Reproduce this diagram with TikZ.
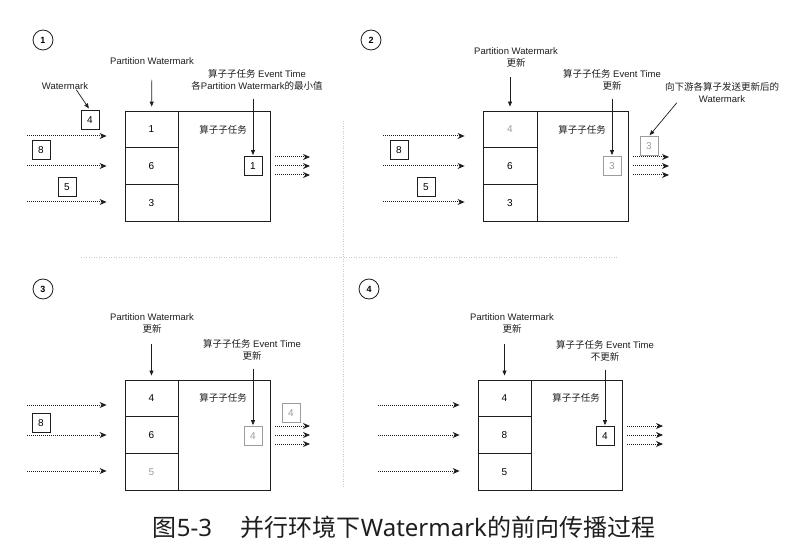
\documentclass[tikz,border=0pt]{standalone}
\usepackage{fontspec}
\setmainfont{Liberation Sans}
\newfontfamily\cjk{Noto Sans CJK SC}
\newfontfamily\capfont{Noto Sans}
\usetikzlibrary{arrows.meta,calc}
\definecolor{ink}  {HTML}{1E1E1E}
\definecolor{faded}{HTML}{9C9C9C}
\definecolor{rule} {HTML}{C8C8C8}
\tikzset{
  lbl/.style     ={font=\fontsize{9.5}{12}\selectfont, align=center,
                   inner sep=0pt, text=ink},
  cell/.style    ={draw=ink, line width=0.8pt, minimum width=53pt,
                   minimum height=36.7pt, inner sep=0pt,
                   font=\fontsize{10}{12}\selectfont},
  cellfade/.style={cell, text=faded},
  opbox/.style   ={draw=ink, line width=0.8pt, minimum width=92pt,
                   minimum height=110pt, inner sep=0pt},
  wm/.style      ={draw=ink, line width=0.8pt, minimum width=18pt,
                   minimum height=19pt, inner sep=0pt,
                   font=\fontsize{10}{12}\selectfont},
  wmfade/.style  ={wm, draw=faded, text=faded},
  stepno/.style  ={circle, draw=ink, line width=0.8pt, minimum size=20pt,
                   inner sep=0pt, font=\fontsize{9}{10}\selectfont\bfseries},
  ptr/.style     ={-{Triangle[length=5pt,width=4pt]}, line width=0.7pt, draw=ink},
  flow/.style    ={-{Stealth[length=7pt,width=6pt]}, line width=1pt,
                   dash pattern=on 1pt off 1pt, draw=ink},
  inflow/.style  ={flow, shorten >=18pt},
  outflow/.style ={flow, shorten <=5pt},
  divider/.style ={draw=rule, line width=0.8pt, dash pattern=on 1pt off 1.5pt},
}

\begin{document}
\begin{tikzpicture}[x=1pt,y=-1pt]
  \useasboundingbox (0,0) rectangle (811,548);

  % quadrant rules
  \draw[divider] (81,257) -- (618,257);
  \draw[divider] (343,121) -- (343,488);

  % (1) first watermarks arrive
  \node[stepno] (s1) at (43,40) {1};
  \node[lbl] (pw1) at (152,61) {Partition Watermark};
  \node[lbl] (wmk1) at (65,86) {Watermark};
  \node[lbl] (et1) at (257,80)
    {{\cjk 算子子任务} Event Time\\{\cjk 各}Partition Watermark{\cjk 的最小值}};
  \node[opbox] (op1) at (224,166) {};
  \node[cell] (c1a) at (151.5,129.3) {1};
  \node[cell] (c1b) at (151.5,166) {6};
  \node[cell] (c1c) at (151.5,202.7) {3};
  \node[lbl] (t1) at (223,130) {\cjk 算子子任务};
  \node[wm] (r1) at (253,166) {1};
  \node[wm] (w1a) at (90,120) {4};
  \node[wm] (w1b) at (41,150) {8};
  \node[wm] (w1c) at (67,187) {5};
  \coordinate (i1a) at (27,136);
  \coordinate (i1b) at (27,166);
  \coordinate (i1c) at (27,202);
  \coordinate (o1a) at (310,157);
  \coordinate (o1b) at (310,166);
  \coordinate (o1c) at (310,175);

  \draw[ptr, shorten <=15pt, shorten >=4pt] (pw1) -- (c1a);
  \draw[ptr, shorten <=8pt, shorten >=1pt] (et1.south -| r1) -- (r1);
  \draw[ptr, shorten >=2pt] ([xshift=-12pt]wmk1.south east) -- (w1a.north);
  \draw[inflow] (i1a) -- (i1a -| c1a.west);
  \draw[inflow] (i1b) -- (i1b -| c1b.west);
  \draw[inflow] (i1c) -- (i1c -| c1c.west);
  \draw[outflow] (o1a -| op1.east) -- (o1a);
  \draw[outflow] (o1b -| op1.east) -- (o1b);
  \draw[outflow] (o1c -| op1.east) -- (o1c);

  % (2) partition watermark and event time updated
  \node[stepno] (s2) at (371,40) {2};
  \node[lbl] (pw2) at (516,57) {Partition Watermark\\{\cjk 更新}};
  \node[lbl] (et2) at (612,80) {{\cjk 算子子任务} Event Time\\{\cjk 更新}};
  \node[lbl] (dn2) at (722,92.5) {\cjk 向下游各算子发送更新后的\\Watermark};
  \node[opbox, minimum width=91pt] (op2) at (582.5,166) {};
  \node[cellfade, minimum width=54pt] (c2a) at (510,129.3) {4};
  \node[cell, minimum width=54pt] (c2b) at (510,166) {6};
  \node[cell, minimum width=54pt] (c2c) at (510,202.7) {3};
  \node[lbl] (t2) at (582,130) {\cjk 算子子任务};
  \node[wmfade] (r2) at (612,166) {3};
  \node[wmfade] (w2) at (649,146) {3};
  \node[wm] (w2b) at (399,150) {8};
  \node[wm] (w2c) at (426,187) {5};
  \coordinate (i2a) at (383,136);
  \coordinate (i2b) at (383,166);
  \coordinate (i2c) at (383,202);
  \coordinate (o2a) at (669,157);
  \coordinate (o2b) at (669,166);
  \coordinate (o2c) at (669,175);

  \draw[ptr, shorten <=10pt, shorten >=4pt] (pw2.south -| c2a) -- (c2a);
  \draw[ptr, shorten <=8pt, shorten >=1pt] (et2.south -| r2) -- (r2);
  \draw[ptr, shorten >=1pt] ([xshift=12pt]dn2.south west) -- (w2.north);
  \draw[inflow] (i2a) -- (i2a -| c2a.west);
  \draw[inflow] (i2b) -- (i2b -| c2b.west);
  \draw[inflow] (i2c) -- (i2c -| c2c.west);
  \draw[outflow] (o2a -| op2.east) -- (o2a);
  \draw[outflow] (o2b -| op2.east) -- (o2b);
  \draw[outflow] (o2c -| op2.east) -- (o2c);

  % (3) next watermark from the third partition
  \node[stepno] (s3) at (43,289) {3};
  \node[lbl] (pw3) at (152,323.5) {Partition Watermark\\{\cjk 更新}};
  \node[lbl] (et3) at (252,350) {{\cjk 算子子任务} Event Time\\{\cjk 更新}};
  \node[opbox] (op3) at (224,435) {};
  \node[cell] (c3a) at (151.5,398.3) {4};
  \node[cell] (c3b) at (151.5,435) {6};
  \node[cellfade] (c3c) at (151.5,471.7) {5};
  \node[lbl] (t3) at (223,398) {\cjk 算子子任务};
  \node[wmfade] (r3) at (253,436) {4};
  \node[wmfade] (w3) at (291,413) {4};
  \node[wm] (w3b) at (41,423) {8};
  \coordinate (i3a) at (27,405);
  \coordinate (i3b) at (27,435);
  \coordinate (i3c) at (27,471);
  \coordinate (o3a) at (310,426);
  \coordinate (o3b) at (310,435);
  \coordinate (o3c) at (310,444);

  \draw[ptr, shorten <=10pt, shorten >=4pt] (pw3.south -| c3a) -- (c3a);
  \draw[ptr, shorten <=8pt, shorten >=1pt] (et3.south -| r3) -- (r3);
  \draw[inflow] (i3a) -- (i3a -| c3a.west);
  \draw[inflow] (i3b) -- (i3b -| c3b.west);
  \draw[inflow] (i3c) -- (i3c -| c3c.west);
  \draw[outflow] (o3a -| op3.east) -- (o3a);
  \draw[outflow] (o3b -| op3.east) -- (o3b);
  \draw[outflow] (o3c -| op3.east) -- (o3c);

  % (4) partition updated, event time unchanged
  \node[stepno] (s4) at (369,289) {4};
  \node[lbl] (pw4) at (512,323.5) {Partition Watermark\\{\cjk 更新}};
  \node[lbl] (et4) at (605,351) {{\cjk 算子子任务} Event Time\\{\cjk 不更新}};
  \node[opbox, minimum width=91pt] (op4) at (576.5,435) {};
  \node[cell] (c4a) at (504.5,398.3) {4};
  \node[cell] (c4b) at (504.5,435) {8};
  \node[cell] (c4c) at (504.5,471.7) {5};
  \node[lbl] (t4) at (576,398) {\cjk 算子子任务};
  \node[wm] (r4) at (605,436) {4};
  \coordinate (i4a) at (378,405);
  \coordinate (i4b) at (378,435);
  \coordinate (i4c) at (378,471);
  \coordinate (o4a) at (663,426);
  \coordinate (o4b) at (663,435);
  \coordinate (o4c) at (663,444);

  \draw[ptr, shorten <=10pt, shorten >=4pt] (pw4.south -| c4a) -- (c4a);
  \draw[ptr, shorten <=8pt, shorten >=1pt] (et4.south -| r4) -- (r4);
  \draw[inflow] (i4a) -- (i4a -| c4a.west);
  \draw[inflow] (i4b) -- (i4b -| c4b.west);
  \draw[inflow] (i4c) -- (i4c -| c4c.west);
  \draw[outflow] (o4a -| op4.east) -- (o4a);
  \draw[outflow] (o4b -| op4.east) -- (o4b);
  \draw[outflow] (o4c -| op4.east) -- (o4c);

  \node[font={\capfont\fontsize{24}{28}\selectfont}, text=ink, inner sep=0pt] (cap)
    at (404,527) {{\cjk 图}5-3\hspace{1.2em}{\cjk 并行环境下}Watermark{\cjk 的前向传播过程}};
\end{tikzpicture}
\end{document}
